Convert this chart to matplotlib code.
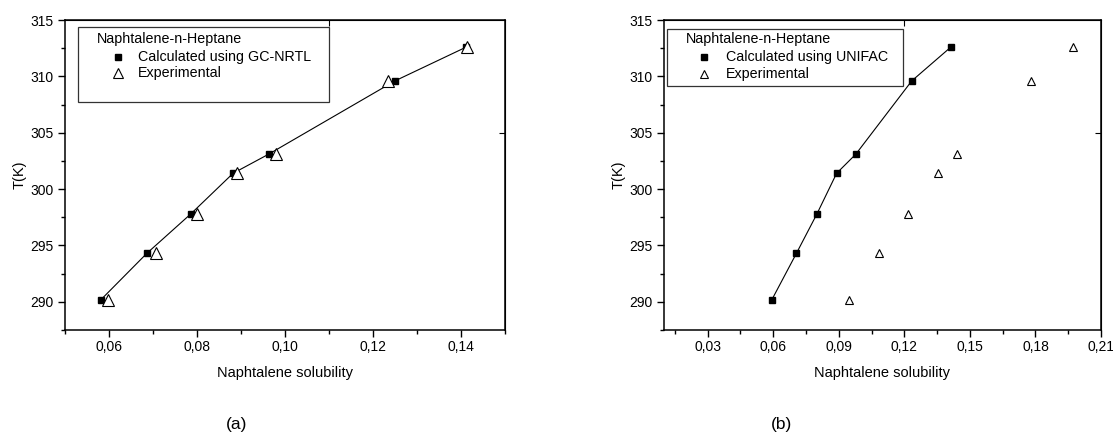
import numpy as np
import matplotlib
matplotlib.use("Agg")
import matplotlib.pyplot as plt
from matplotlib.ticker import MultipleLocator, FuncFormatter
from matplotlib.patches import Rectangle
from matplotlib.lines import Line2D

plt.rcParams["font.family"] = ["Liberation Sans", "DejaVu Sans"]

# --- data ---
T = [290.2, 294.3, 297.8, 301.4, 303.1, 309.6, 312.6]

# (a) GC-NRTL
nrtl_calc = [0.0582, 0.0686, 0.0786, 0.0882, 0.0963, 0.1250, 0.1412]
nrtl_exp = [0.0597, 0.0706, 0.0801, 0.0891, 0.0979, 0.1235, 0.1414]

# (b) UNIFAC
unifac_calc = [0.0594, 0.0706, 0.0800, 0.0890, 0.0978, 0.1234, 0.1413]
unifac_exp = [0.0945, 0.1083, 0.1216, 0.1356, 0.1439, 0.1780, 0.1973]

SYSTEM = "Naphtalene-n-Heptane"
XLABEL = "Naphtalene solubility"
YLABEL = "T(K)"

W, H = 1113, 443


def comma_fmt(x, pos):
    return f"{x:.2f}".replace(".", ",")


def fpos(x, y):
    # figure pixel (from top-left) -> figure fraction
    return x / W, 1 - y / H


def style_axes(ax, xlim, xmajor, xminor, top_tick):
    ax.set_xlim(*xlim)
    ax.set_ylim(287.5, 315)
    ax.xaxis.set_major_locator(MultipleLocator(xmajor))
    ax.xaxis.set_minor_locator(MultipleLocator(xminor))
    ax.yaxis.set_major_locator(MultipleLocator(5))
    ax.yaxis.set_minor_locator(MultipleLocator(2.5))
    ax.xaxis.set_major_formatter(FuncFormatter(comma_fmt))
    ax.tick_params(which="major", direction="out", length=5, width=1,
                   labelsize=10)
    ax.tick_params(axis="x", which="major", pad=2)
    ax.tick_params(axis="y", which="major", pad=3)
    ax.tick_params(which="minor", direction="out", length=3, width=1)
    for s in ax.spines.values():
        s.set_linewidth(1.1)
    # lone ticks on the mirrored axes
    tx = ax.secondary_xaxis("top")
    tx.set_xticks([top_tick])
    tx.tick_params(direction="in", length=4, labeltop=False)
    tx.xaxis.set_minor_locator(plt.NullLocator())
    ty = ax.secondary_yaxis("right")
    ty.set_yticks([305])
    ty.tick_params(direction="in", length=4, labelright=False)
    ty.yaxis.set_minor_locator(plt.NullLocator())
    ax.set_xlabel(XLABEL, fontsize=10.5, labelpad=9)
    ax.set_ylabel(YLABEL, fontsize=10.5, labelpad=3)


def add_key(fig, box, title_x, mark_x, text_x, rows_y, calc_label,
            tri_size):
    # box: (left, top, right, bottom) in figure pixels
    x0, y0 = fpos(box[0], box[3])
    x1, y1 = fpos(box[2], box[1])
    fig.patches.append(Rectangle((x0, y0), x1 - x0, y1 - y0,
                                 transform=fig.transFigure, fill=False,
                                 lw=0.9, ec="#333333", zorder=5))
    fs = 10.3
    fig.text(*fpos(title_x, rows_y[0]), SYSTEM, fontsize=fs, va="center")
    entries = [
        (dict(marker="s", ms=5, mfc="black", mec="black"), calc_label),
        (dict(marker="^", ms=tri_size, mfc="white", mec="black", mew=0.8),
         "Experimental"),
    ]
    for (mk, lab), yy in zip(entries, rows_y[1:]):
        mx, my = fpos(mark_x, yy)
        fig.lines.append(Line2D([mx], [my], transform=fig.transFigure,
                                ls="none", **mk))
        fig.text(*fpos(text_x, yy), lab, fontsize=fs, va="center")


fig = plt.figure(figsize=(W / 100, H / 100), dpi=100)
ax1 = fig.add_axes([65 / W, 113 / H, 440 / W, 310 / H])
ax2 = fig.add_axes([664 / W, 113 / H, 437 / W, 310 / H])

# (a)
ax1.plot(nrtl_calc, T, color="black", lw=0.8, zorder=2)
ax1.plot(nrtl_calc, T, ls="none", marker="s", ms=4.5, color="black", zorder=3)
ax1.plot(nrtl_exp, T, ls="none", marker="^", ms=8.5, mfc="white",
         mec="black", mew=0.8, zorder=4)
style_axes(ax1, (0.05, 0.15), 0.02, 0.01, 0.11)
add_key(fig, (78, 27, 329, 102), 96.5, 117.5, 138, (39, 56.5, 73),
        "Calculated using GC-NRTL", 6.5)

# (b)
ax2.plot(unifac_calc, T, color="black", lw=0.8, zorder=2)
ax2.plot(unifac_calc, T, ls="none", marker="s", ms=5, color="black", zorder=3)
ax2.plot(unifac_exp, T, ls="none", marker="^", ms=5.5, mfc="white",
         mec="black", mew=0.8, zorder=4)
style_axes(ax2, (0.01, 0.21), 0.03, 0.015, 0.12)
add_key(fig, (667, 29, 903, 86), 685.5, 704, 726, (39.5, 57.3, 74),
        "Calculated using UNIFAC", 5.5)

fig.text(*fpos(237, 425), "(a)", fontsize=12.5, ha="center", va="center")
fig.text(*fpos(782, 425), "(b)", fontsize=12.5, ha="center", va="center")

fig.savefig("out.png", dpi=100)
